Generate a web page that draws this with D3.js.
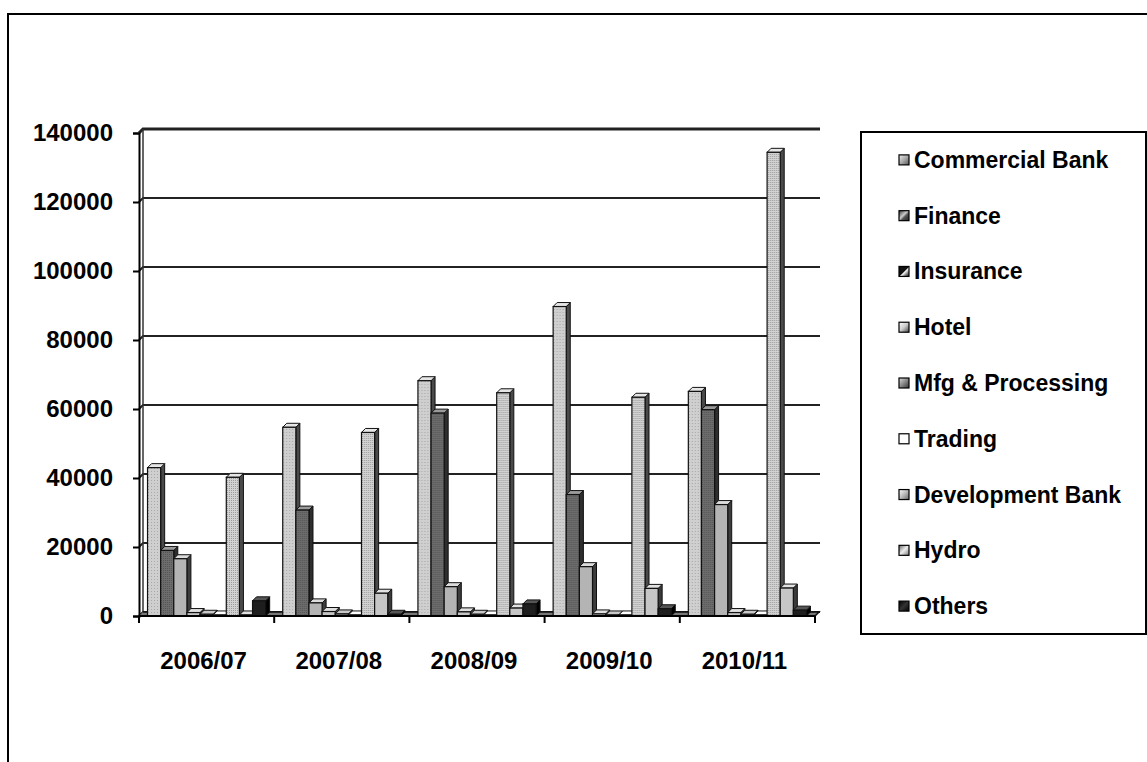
<!DOCTYPE html>
<html>
<head>
<meta charset="utf-8">
<script src="https://cdn.jsdelivr.net/npm/d3@7"></script>
<style>
  html, body { margin: 0; padding: 0; background: #fff; }
  svg { display: block; font-family: "Liberation Sans", Arial, sans-serif; font-weight: bold; }
</style>
</head>
<body>
<svg id="chart" width="1147" height="762"></svg>
<script>
const years = ["2006/07", "2007/08", "2008/09", "2009/10", "2010/11"];
const seriesNames = ["Commercial Bank", "Finance", "Insurance", "Hotel", "Mfg & Processing",
  "Trading", "Development Bank", "Hydro", "Others"];
const commercialBank  = [43000, 54700, 68200, 89700, 65100];
const finance         = [19000, 30700, 58800, 35200, 59800];
const insurance       = [16600,  3800,  8500, 14300, 32300];
const hotel           = [ 1000,  1300,  1200,   600,  1000];
const mfgProcessing   = [  500,   600,   500,   300,   500];
const trading         = [  300,   300,   300,   300,   300];
const developmentBank = [40200, 53200, 64700, 63400, 134400];
const hydro           = [  300,  6600,  2300,  8000,  8100];
const others          = [ 4400,   500,  3500,  2100,  1700];
const yTicks = [0, 20000, 40000, 60000, 80000, 100000, 120000, 140000];

const seriesValues = [commercialBank, finance, insurance, hotel, mfgProcessing,
  trading, developmentBank, hydro, others];

// styles per series: front fill, side fill, top fill, legend swatch
const styles = [
  {front: "url(#dotLight)", side: "#4a4a4a", top: "#e6e6e6", sw: "url(#swCB)"},
  {front: "url(#dotDark)",  side: "#2e2e2e", top: "#9a9a9a", sw: "url(#swFin)"},
  {front: "#b4b4b4",        side: "#3c3c3c", top: "#dcdcdc", sw: "url(#swIns)"},
  {front: "#c4c4c4",        side: "#444",    top: "#e0e0e0", sw: "url(#swHot)"},
  {front: "#9a9a9a",        side: "#3a3a3a", top: "#c8c8c8", sw: "url(#swMfg)"},
  {front: "#f4f4f4",        side: "#555",    top: "#fff",    sw: "#fff"},
  {front: "url(#dotLight2)",side: "#4a4a4a", top: "#e6e6e6", sw: "url(#swDev)"},
  {front: "#c6c6c6",        side: "#3a3a3a", top: "#e2e2e2", sw: "url(#swHyd)"},
  {front: "#1e1e1e",        side: "#000",    top: "#555",    sw: "url(#swOth)"}
];

const svg = d3.select("#chart");
const defs = svg.append("defs");

function dotPattern(id, base, dot, step) {
  const p = defs.append("pattern").attr("id", id).attr("patternUnits", "userSpaceOnUse")
    .attr("width", step).attr("height", step);
  p.append("rect").attr("width", step).attr("height", step).attr("fill", base);
  p.append("rect").attr("x", 0).attr("y", 0).attr("width", 1).attr("height", 1).attr("fill", dot);
}
dotPattern("dotLight", "#cfcfcf", "#a8a8a8", 3);
dotPattern("dotLight2", "#d2d2d2", "#9c9c9c", 2);
dotPattern("dotDark", "#6c6c6c", "#555", 2);

function grad(id, stops) {
  const g = defs.append("linearGradient").attr("id", id)
    .attr("x1", "0").attr("y1", "0").attr("x2", "1").attr("y2", "1");
  stops.forEach(s => g.append("stop").attr("offset", s[0]).attr("stop-color", s[1]));
}
grad("swCB",  [[0, "#eee"], [0.5, "#aaa"], [1, "#555"]]);
grad("swFin", [[0, "#333"], [0.45, "#ccc"], [0.6, "#555"], [1, "#222"]]);
grad("swIns", [[0, "#111"], [0.5, "#111"], [0.55, "#fff"], [0.75, "#888"], [1, "#111"]]);
grad("swHot", [[0, "#fff"], [0.5, "#ccc"], [1, "#444"]]);
grad("swMfg", [[0, "#ddd"], [0.5, "#888"], [1, "#333"]]);
grad("swDev", [[0, "#fff"], [0.5, "#bbb"], [1, "#666"]]);
grad("swHyd", [[0, "#666"], [0.5, "#eee"], [1, "#777"]]);
grad("swOth", [[0, "#000"], [0.5, "#333"], [1, "#000"]]);

// outer frame (right / bottom edges fall off the image)
svg.append("rect").attr("x", 8).attr("y", 14).attr("width", 1200).attr("height", 800)
  .attr("fill", "none").attr("stroke", "#000").attr("stroke-width", 2);

const x0 = d3.scaleBand().domain(years).range([139, 815]).paddingInner(0).paddingOuter(0);
const x1 = d3.scaleBand().domain(seriesNames).range([0, x0.bandwidth()])
  .paddingInner(0).paddingOuter(0.65);
const y = d3.scaleLinear().domain([0, 140000]).range([616, 133]);

const depth = 4;
const wallX = 143;
const xRight = 820;

// back-wall gridlines
const grid = svg.append("g");
grid.selectAll("path").data(yTicks).join("path")
  .attr("d", d => `M139,${y(d)} L${wallX},${y(d) - depth} L${xRight},${y(d) - depth}`)
  .attr("fill", "none").attr("stroke", "#222")
  .attr("stroke-width", d => d === 140000 ? 3 : 2);
// wall left edge
grid.append("line").attr("x1", wallX).attr("x2", wallX)
  .attr("y1", y(0) - depth).attr("y2", y(140000) - depth)
  .attr("stroke", "#333").attr("stroke-width", 1.5);

// y axis
const yAxis = svg.append("g").attr("transform", "translate(139,0)")
  .call(d3.axisLeft(y).tickValues(yTicks).tickSize(6).tickPadding(20).tickFormat(d3.format("d")));
yAxis.select(".domain").attr("stroke", "#000").attr("stroke-width", 2);
yAxis.selectAll(".tick line").attr("stroke", "#000").attr("stroke-width", 2);
yAxis.selectAll(".tick text").attr("fill", "#000").style("font-size", "24px")
  .style("font-family", "'Liberation Sans', Arial, sans-serif").style("font-weight", "bold");

// floor
svg.append("path")
  .attr("d", `M139,${y(0)} L815,${y(0)} L${815 + depth},${y(0) - depth} L${wallX},${y(0) - depth}`)
  .attr("fill", "#777").attr("stroke", "#111").attr("stroke-width", 1.5);

// bars
const groups = svg.append("g").selectAll("g").data(years).join("g")
  .attr("transform", d => `translate(${x0(d)},0)`);

groups.each(function(yr, gi) {
  const g = d3.select(this);
  seriesNames.forEach((s, si) => {
    const v = seriesValues[si][gi];
    const bx = x1(s), bw = x1.bandwidth();
    const top = y(v), base = y(0);
    const st = styles[si];
    const bar = g.append("g");
    bar.append("path")
      .attr("d", `M${bx + bw},${base} L${bx + bw + depth},${base - depth} L${bx + bw + depth},${top - depth} L${bx + bw},${top} Z`)
      .attr("fill", st.side).attr("stroke", "#111").attr("stroke-width", 1);
    bar.append("path")
      .attr("d", `M${bx},${top} L${bx + depth},${top - depth} L${bx + bw + depth},${top - depth} L${bx + bw},${top} Z`)
      .attr("fill", st.top).attr("stroke", "#111").attr("stroke-width", 1);
    bar.append("rect").attr("x", bx).attr("y", top).attr("width", bw).attr("height", base - top)
      .attr("fill", st.front).attr("stroke", "#111").attr("stroke-width", 1.2);
  });
});

// x axis
const xAxis = svg.append("g");
xAxis.append("line").attr("x1", 139).attr("x2", 815).attr("y1", y(0)).attr("y2", y(0))
  .attr("stroke", "#000").attr("stroke-width", 2);
const bounds = years.map(d => x0(d)).concat([x0(years[years.length - 1]) + x0.bandwidth()]);
xAxis.selectAll("line.tk").data(bounds).join("line").attr("class", "tk")
  .attr("x1", d => d).attr("x2", d => d).attr("y1", y(0)).attr("y2", y(0) + 7)
  .attr("stroke", "#000").attr("stroke-width", 2);
xAxis.selectAll("text").data(years).join("text")
  .attr("x", d => x0(d) + x0.bandwidth() / 2 - 3).attr("y", 669)
  .attr("text-anchor", "middle").style("font-size", "24px").attr("fill", "#000")
  .text(d => d);

// legend
const legX = 861, legY = 132, legW = 285, legH = 502;
svg.append("rect").attr("x", legX).attr("y", legY).attr("width", legW).attr("height", legH)
  .attr("fill", "#fff").attr("stroke", "#000").attr("stroke-width", 2);
const ly = d3.scaleBand().domain(seriesNames).range([legY, legY + legH]);
const items = svg.append("g").selectAll("g").data(seriesNames).join("g")
  .attr("transform", d => `translate(0,${ly(d) + ly.bandwidth() / 2})`);
items.append("rect").attr("x", 899).attr("y", -5).attr("width", 10).attr("height", 10)
  .attr("fill", (d, i) => styles[i].sw).attr("stroke", "#000").attr("stroke-width", 1.2);
items.append("text").attr("x", 914).attr("y", 8).style("font-size", "23px").attr("fill", "#000")
  .text(d => d);
</script>
</body>
</html>
